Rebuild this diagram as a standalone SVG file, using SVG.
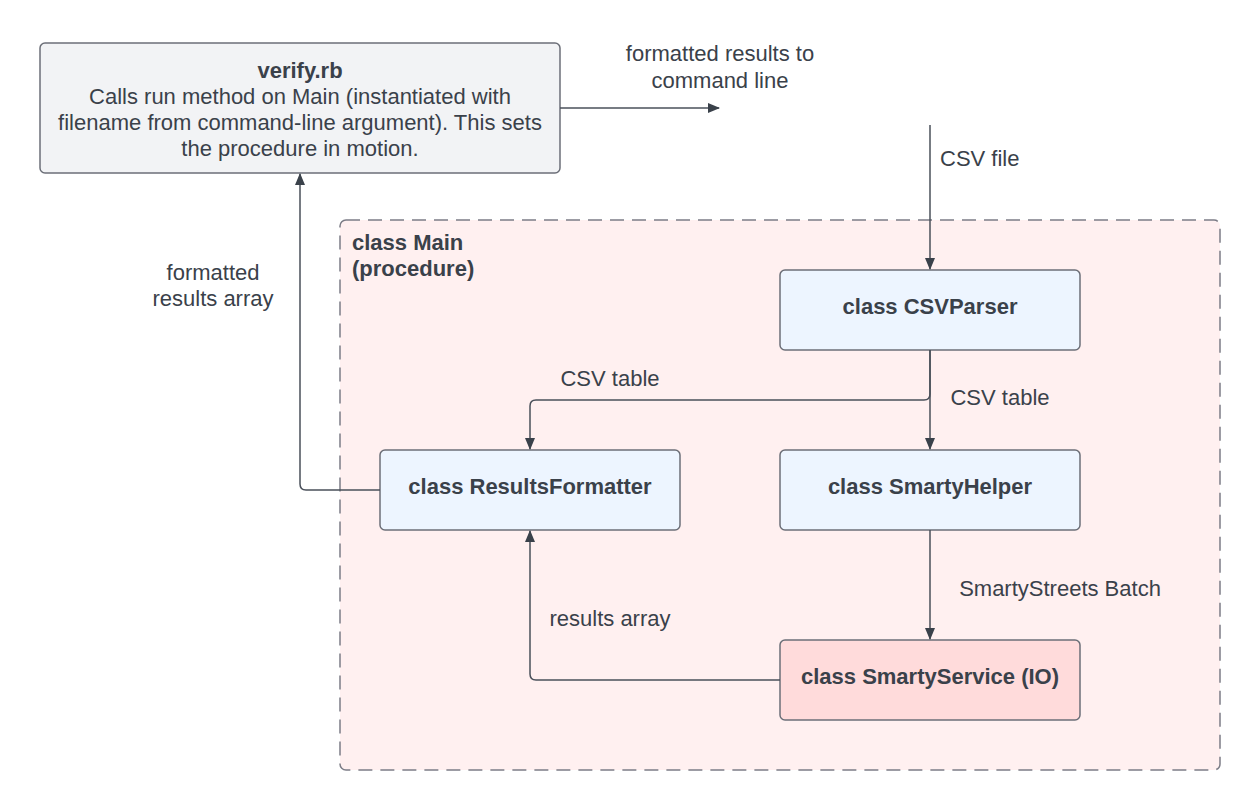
<svg xmlns="http://www.w3.org/2000/svg" width="1260" height="810" viewBox="0 0 1260 810">
<style>
text{font-family:"Liberation Sans",Arial,sans-serif;font-size:22px;fill:#3a414a}
.b{font-weight:bold}
.m{text-anchor:middle}
.node{stroke:#6c6f78;stroke-width:1.5}
.c{fill:none;stroke:#4a505a;stroke-width:1.5}
</style>
<defs>
<marker id="ah" viewBox="0 0 12 12" refX="11" refY="6" markerWidth="12" markerHeight="12" markerUnits="userSpaceOnUse" orient="auto">
<path d="M0,1 L12,6 L0,11 Z" fill="#3a414a"/>
</marker>
</defs>
<rect width="1260" height="810" fill="#ffffff"/>
<g id="main">
<rect x="340" y="220" width="880" height="550" rx="6" fill="#fff0f0" stroke="#7c7c86" stroke-width="1.5" stroke-dasharray="14,8"/>
<text class="b" x="352" y="250">class Main</text>
<text class="b" x="352" y="276">(procedure)</text>
</g>
<g id="verify">
<rect class="node" x="40" y="43" width="520" height="130" rx="5" fill="#f2f3f5"/>
<text class="b m" x="300" y="78">verify.rb</text>
<text class="m" x="300" y="104">Calls run method on Main (instantiated with</text>
<text class="m" x="300" y="130">filename from command-line argument). This sets</text>
<text class="m" x="300" y="156">the procedure in motion.</text>
</g>
<g id="csvparser">
<rect class="node" x="780" y="270" width="300" height="80" rx="5" fill="#edf5ff"/>
<text class="b m" x="930" y="314">class CSVParser</text>
</g>
<g id="resultsformatter">
<rect class="node" x="380" y="450" width="300" height="80" rx="5" fill="#edf5ff"/>
<text class="b m" x="530" y="494">class ResultsFormatter</text>
</g>
<g id="smartyhelper">
<rect class="node" x="780" y="450" width="300" height="80" rx="5" fill="#edf5ff"/>
<text class="b m" x="930" y="494">class SmartyHelper</text>
</g>
<g id="smartyservice">
<rect class="node" x="780" y="640" width="300" height="80" rx="5" fill="#ffdbdb"/>
<text class="b m" x="930" y="684">class SmartyService (IO)</text>
</g>
<g id="connectors">
<path class="c" d="M560,108 H719" marker-end="url(#ah)"/>
<path class="c" d="M930,125 V269" marker-end="url(#ah)"/>
<path class="c" d="M930,350 V449" marker-end="url(#ah)"/>
<path class="c" d="M930,350 V394 Q930,400 924,400 H536 Q530,400 530,406 V449" marker-end="url(#ah)"/>
<path class="c" d="M380,490 H306 Q300,490 300,484 V174" marker-end="url(#ah)"/>
<path class="c" d="M930,530 V639" marker-end="url(#ah)"/>
<path class="c" d="M780,680 H536 Q530,680 530,674 V531" marker-end="url(#ah)"/>
</g>
<g id="labels">
<text class="m" x="720" y="61">formatted results to</text>
<text class="m" x="720" y="88">command line</text>
<text x="940" y="166">CSV file</text>
<text class="m" x="213" y="280">formatted</text>
<text class="m" x="213" y="306">results array</text>
<text class="m" x="610" y="386">CSV table</text>
<text class="m" x="1000" y="405">CSV table</text>
<text class="m" x="1060" y="596">SmartyStreets Batch</text>
<text class="m" x="610" y="626">results array</text>
</g>
</svg>
